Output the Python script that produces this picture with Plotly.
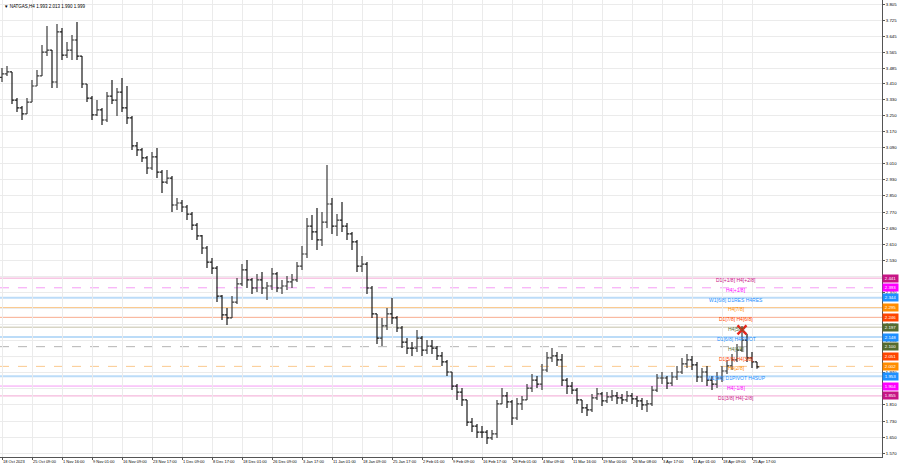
import plotly.graph_objects as go

# ---------------- data ----------------
first_open = 3.44
close = [3.457,3.467,3.327,3.288,3.258,3.317,3.397,3.447,3.566,3.576,
3.417,3.666,3.551,3.576,3.626,3.546,3.407,3.337,3.253,3.278,
3.228,3.347,3.327,3.367,3.288,3.238,3.099,3.079,3.039,2.989,
3.044,2.969,2.919,2.939,2.805,2.815,2.795,2.760,2.705,2.651,
2.591,2.521,2.491,2.352,2.258,2.243,2.322,2.412,2.482,2.432,
2.392,2.432,2.392,2.402,2.462,2.392,2.402,2.422,2.432,2.501,
2.561,2.700,2.671,2.631,2.720,2.810,2.700,2.730,2.700,2.661,
2.621,2.501,2.511,2.392,2.263,2.143,2.203,2.263,2.243,2.193,
2.123,2.093,2.093,2.143,2.083,2.103,2.093,2.054,2.024,1.974,
1.904,1.874,1.835,1.725,1.705,1.675,1.675,1.646,1.666,1.815,
1.855,1.825,1.745,1.815,1.835,1.894,1.934,1.914,1.984,2.044,
2.054,2.034,1.934,1.904,1.884,1.835,1.795,1.785,1.845,1.865,
1.830,1.850,1.855,1.845,1.835,1.855,1.840,1.830,1.810,1.815,
1.884,1.944,1.944,1.919,1.949,1.974,2.014,2.034,2.009,1.949,
1.974,1.934,1.914,1.944,1.979,2.004,2.034,2.083,2.133,2.044,
2.024,1.999]
high = [3.487,3.497,3.467,3.337,3.298,3.337,3.427,3.477,3.601,3.696,
3.576,3.706,3.686,3.616,3.651,3.716,3.536,3.407,3.347,3.327,
3.288,3.367,3.427,3.387,3.437,3.397,3.248,3.119,3.089,3.049,
3.069,3.089,2.979,2.979,2.949,2.840,2.830,2.805,2.770,2.715,
2.656,2.601,2.541,2.501,2.357,2.292,2.352,2.442,2.511,2.531,
2.442,2.462,2.472,2.422,2.491,2.472,2.432,2.452,2.462,2.521,
2.601,2.740,2.755,2.790,2.770,3.004,2.840,2.760,2.820,2.715,
2.671,2.631,2.551,2.521,2.402,2.183,2.243,2.292,2.342,2.253,
2.203,2.143,2.123,2.183,2.153,2.133,2.133,2.103,2.073,2.034,
1.974,1.914,1.894,1.835,1.745,1.715,1.705,1.685,1.685,1.835,
1.894,1.874,1.835,1.845,1.855,1.914,1.964,1.954,2.014,2.073,
2.093,2.073,2.064,1.944,1.924,1.894,1.835,1.815,1.865,1.894,
1.874,1.874,1.884,1.874,1.865,1.879,1.870,1.855,1.845,1.835,
1.904,1.964,1.974,1.954,1.974,2.004,2.044,2.064,2.054,2.024,
1.994,2.004,1.954,1.974,2.004,2.034,2.064,2.113,2.203,2.163,
2.073,2.013]
low = [3.417,3.447,3.307,3.268,3.228,3.268,3.327,3.397,3.447,3.546,
3.387,3.387,3.526,3.536,3.526,3.526,3.387,3.317,3.228,3.248,
3.203,3.218,3.307,3.248,3.268,3.208,3.079,3.049,3.019,2.959,
2.979,2.939,2.865,2.909,2.770,2.780,2.770,2.730,2.681,2.631,
2.561,2.491,2.462,2.322,2.233,2.208,2.243,2.312,2.402,2.392,
2.362,2.372,2.362,2.332,2.382,2.372,2.362,2.382,2.392,2.422,
2.482,2.541,2.631,2.581,2.601,2.690,2.661,2.651,2.671,2.631,
2.581,2.472,2.472,2.362,2.243,2.113,2.103,2.183,2.213,2.173,
2.093,2.064,2.054,2.073,2.054,2.064,2.064,2.034,2.004,1.954,
1.884,1.835,1.805,1.705,1.675,1.646,1.646,1.616,1.636,1.646,
1.815,1.795,1.710,1.735,1.785,1.835,1.874,1.894,1.884,1.974,
2.024,2.004,1.904,1.865,1.865,1.815,1.770,1.755,1.775,1.835,
1.805,1.820,1.830,1.815,1.815,1.825,1.815,1.800,1.785,1.775,
1.805,1.874,1.914,1.889,1.904,1.934,1.964,1.994,1.984,1.924,
1.924,1.904,1.884,1.894,1.924,1.964,1.984,2.024,2.073,2.024,
1.994,1.990]

x_tick_labels = ["18 Oct 2023","25 Oct 09:00","1 Nov 16:00","9 Nov 01:00","16 Nov 09:00",
"23 Nov 17:00","1 Dec 09:00","8 Dec 17:00","18 Dec 01:00","26 Dec 09:00","3 Jan 17:00",
"11 Jan 01:00","18 Jan 09:00","25 Jan 17:00","2 Feb 01:00","9 Feb 09:00","16 Feb 17:00",
"26 Feb 01:00","4 Mar 09:00","11 Mar 16:00","19 Mar 00:00","26 Mar 08:00","3 Apr 17:00",
"11 Apr 01:00","18 Apr 09:00","25 Apr 17:00"]
bars_per_label = 6

y_ticks = [3.805,3.725,3.645,3.565,3.485,3.410,3.330,3.250,3.170,3.090,3.010,2.930,2.850,
2.770,2.690,2.610,2.530,2.450,2.370,2.290,2.210,2.130,2.050,1.970,1.890,1.810,1.730,1.650,1.570]

level_values = [2.441,2.393,2.344,2.295,2.246,2.197,2.148,2.100,2.051,2.002,1.953,1.904,1.855]
level_texts = ["D1[+1/8] H4[+2/8]","H4[+1/8]","W1[6/8] D1RES H4RES","H4[7/8]","D1[7/8] H4[6/8]",
"H4[5/8]","D1[6/8] H4PIVOT","H4[4/8]","D1[5/8] H4[3/8]","H4[2/8]","W1[5/8] D1PIVOT H4SUP",
"H4[-1/8]","D1[3/8] H4[-2/8]"]

signal_x = [148]
signal_y = [2.183]

header = "▼ NATGAS,H4 1.993 2.013 1.990 1.999"

# ---------------- styles ----------------
FONT = "Liberation Sans"
label_bg = ["#c71585","#ff00ff","#1e90ff","#ff8c00","#ff4500","#556b2f","#1e90ff",
            "#556b2f","#ff4500","#ff8c00","#1e90ff","#ff00ff","#c71585"]
line_col = ["#f2a6d4","#f59cf5","#bcdcf8","#fbc98e","#f8ad8e","#c4c0a8","#bcdcf8",
            "#b4b4b4","#f8ad8e","#fbc98e","#bcdcf8","#f59cf5","#f2a6d4"]
line_w = [1,1,2,1,1,1,2,1,1,1,2,1,1]
line_dash = ["solid","dash","solid","solid","solid","solid","solid","dash","solid","dash",
             "solid","solid","solid"]

n = len(close)
xs = list(range(n))
opens = [first_open] + close[:-1]
hi = [max(h, o, c) for h, o, c in zip(high, opens, close)]
lo = [min(l, o, c) for l, o, c in zip(low, opens, close)]

fig = go.Figure()
fig.add_trace(go.Ohlc(
    x=xs, open=opens, high=hi, low=lo, close=close, tickwidth=0.45,
    increasing=dict(line=dict(color="#3c3c3c", width=1.2)),
    decreasing=dict(line=dict(color="#1a1a1a", width=1.2)),
    showlegend=False, hoverinfo="skip"))

fig.add_trace(go.Scatter(x=signal_x, y=signal_y, mode="markers",
    marker=dict(symbol="x-thin", size=9, line=dict(color="#e8281e", width=2.5)),
    showlegend=False, hoverinfo="skip"))

shapes = []
annotations = []
for v, t, bg, lc, lw, ld in zip(level_values, level_texts, label_bg, line_col, line_w, line_dash):
    shapes.append(dict(type="line", xref="paper", x0=0, x1=1, yref="y", y0=v, y1=v,
                       line=dict(color=lc, width=lw, dash=ld), layer="below"))
    annotations.append(dict(x=146.8, y=v, xref="x", yref="y", text=t, showarrow=False,
                            font=dict(size=5, color=bg, family=FONT),
                            xanchor="center", yanchor="middle", yshift=-2))
    annotations.append(dict(x=1, y=v, xref="paper", yref="y", text=f"{v:.3f}", showarrow=False,
                            font=dict(size=4.4, color="#ffffff", family=FONT),
                            bgcolor=bg, xanchor="left", yanchor="middle", width=15, height=7,
                            borderpad=0, align="center", xshift=0))

annotations.append(dict(x=0, y=1, xref="paper", yref="paper", text=header, showarrow=False,
                        font=dict(size=4.5, color="#000000", family=FONT),
                        xanchor="left", yanchor="top", xshift=2, yshift=-2))

fig.update_layout(
    width=900, height=468,
    margin=dict(l=0, r=18, t=0, b=11),
    paper_bgcolor="#ffffff", plot_bgcolor="#ffffff",
    shapes=shapes, annotations=annotations,
    xaxis=dict(range=[-0.4, 176.0], rangeslider=dict(visible=False),
               tickvals=[k * bars_per_label for k in range(len(x_tick_labels))],
               ticktext=x_tick_labels, ticklabelposition="outside right", tickangle=0,
               tickfont=dict(size=4, color="#000000", family=FONT),
               ticks="outside", ticklen=2, tickcolor="#555",
               showgrid=True, gridcolor="#ebebeb", gridwidth=1,
               showline=True, linecolor="#555555", linewidth=1, mirror=True,
               zeroline=False, fixedrange=True, automargin=False),
    yaxis=dict(range=[1.551, 3.825], side="right",
               tickvals=y_ticks, ticktext=[f"{v:.3f}" for v in y_ticks],
               tickfont=dict(size=4.3, color="#000000", family=FONT),
               ticks="outside", ticklen=2, tickcolor="#555",
               showgrid=True, gridcolor="#ebebeb", gridwidth=1,
               showline=True, linecolor="#555555", linewidth=1, mirror=True,
               zeroline=False, fixedrange=True, automargin=False),
)

fig.write_html("out.html", config={"displayModeBar": False},
               post_script="document.body.style.margin='0';document.body.style.overflow='hidden';")
